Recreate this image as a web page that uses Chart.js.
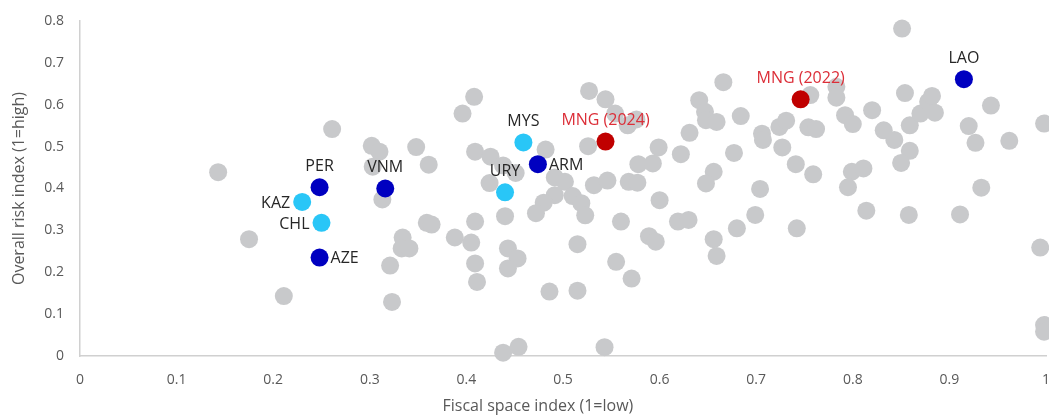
<!DOCTYPE html>
<html>
<head>
<meta charset="utf-8">
<script src="https://cdn.jsdelivr.net/npm/chart.js@4/dist/chart.umd.min.js"></script>
<style>
html,body{margin:0;padding:0;background:#fff;}
#wrap{width:1049px;height:417px;position:relative;}
</style>
</head>
<body>
<div id="wrap"><canvas id="c" width="1049" height="417"></canvas></div>
<script>
// ---- data ----
const otherX = [0.143,0.175,0.211,0.261,0.313,0.302,0.310,0.303,0.348,0.361,0.359,0.364,0.334,0.333,0.341,0.321,0.323,0.388,0.405,0.409,0.409,0.411,0.408,0.396,0.409,0.425,0.438,0.424,0.451,0.482,0.4915,0.502,0.4915,0.510,0.519,0.480,0.472,0.523,0.440,0.443,0.453,0.443,0.438,0.454,0.486,0.515,0.515,0.526,0.527,0.544,0.554,0.567,0.576,0.532,0.546,0.568,0.577,0.578,0.593,0.599,0.600,0.560,0.555,0.571,0.589,0.596,0.619,0.630,0.543,0.851,0.756,0.783,0.783,0.666,0.641,0.647,0.648,0.659,0.684,0.631,0.622,0.706,0.707,0.724,0.731,0.754,0.762,0.677,0.727,0.741,0.759,0.656,0.648,0.704,0.699,0.680,0.656,0.659,0.742,0.792,0.800,0.820,0.832,0.843,0.854,0.859,0.870,0.878,0.882,0.885,0.859,0.850,0.799,0.811,0.795,0.814,0.858,0.911,0.933,0.920,0.927,0.943,0.962,0.998,0.994,0.998,0.998];
const otherY = [0.439,0.279,0.143,0.542,0.374,0.502,0.488,0.452,0.499,0.457,0.318,0.314,0.283,0.257,0.257,0.216,0.129,0.283,0.271,0.321,0.221,0.177,0.619,0.579,0.488,0.476,0.455,0.413,0.437,0.493,0.4265,0.416,0.384,0.382,0.365,0.366,0.341,0.336,0.334,0.257,0.233,0.209,0.008,0.022,0.154,0.156,0.267,0.501,0.633,0.613,0.579,0.551,0.565,0.408,0.419,0.416,0.414,0.458,0.460,0.498,0.372,0.321,0.225,0.185,0.286,0.273,0.321,0.325,0.021,0.782,0.623,0.643,0.617,0.654,0.611,0.583,0.563,0.559,0.573,0.533,0.482,0.531,0.516,0.547,0.562,0.546,0.542,0.485,0.498,0.458,0.434,0.440,0.412,0.399,0.337,0.305,0.279,0.239,0.305,0.575,0.554,0.587,0.539,0.516,0.628,0.551,0.579,0.607,0.621,0.581,0.490,0.461,0.440,0.448,0.403,0.347,0.337,0.338,0.402,0.549,0.509,0.598,0.514,0.555,0.259,0.074,0.058];

const hlNames = ["PER","KAZ","CHL","AZE","VNM","URY","MYS","ARM","MNG (2024)","MNG (2022)","LAO"];
const hlX     = [0.248,0.230,0.250,0.248,0.316,0.440,0.459,0.474,0.544,0.746,0.915];
const hlY     = [0.403,0.368,0.318,0.235,0.400,0.391,0.510,0.458,0.512,0.613,0.661];
const hlGroup = ["peer","ref","ref","peer","peer","ref","ref","peer","mng","mng","peer"];

const xTicks = [0,0.1,0.2,0.3,0.4,0.5,0.6,0.7,0.8,0.9,1];
const yTicks = [0,0.1,0.2,0.3,0.4,0.5,0.6,0.7,0.8];
const xTitle = "Fiscal space index (1=low)";
const yTitle = "Overall risk index (1=high)";

// ---- styles ----
const groupColor = {peer:"#0000C0", ref:"#29C6F7", mng:"#C00000"};
const labelColor = {peer:"#262626", ref:"#262626", mng:"#DC2E38"};
const placement = {"PER":"above","KAZ":"left","CHL":"left","AZE":"right","VNM":"above","URY":"above","MYS":"above","ARM":"right","MNG (2024)":"above","MNG (2022)":"above","LAO":"above"};
const FONT = "'Open Sans', 'Noto Sans', sans-serif";

const labelPlugin = {
  id: 'pointLabels',
  afterDatasetsDraw(chart) {
    const ctx = chart.ctx;
    const meta = chart.getDatasetMeta(0);
    ctx.save();
    ctx.font = "16px " + FONT;
    ctx.textBaseline = "middle";
    meta.data.forEach((pt, i) => {
      const name = hlNames[i];
      const p = placement[name];
      ctx.fillStyle = labelColor[hlGroup[i]];
      if (p === "above") {
        ctx.textAlign = "center";
        ctx.fillText(name, pt.x, pt.y - 21);
      } else if (p === "left") {
        ctx.textAlign = "right";
        ctx.fillText(name, pt.x - 12, pt.y + 2);
      } else {
        ctx.textAlign = "left";
        ctx.fillText(name, pt.x + 11, pt.y + 1);
      }
    });
    ctx.restore();
  }
};

const titlePlugin = {
  id: 'axisTitles',
  afterDraw(chart) {
    const ctx = chart.ctx;
    const a = chart.chartArea;
    ctx.save();
    ctx.font = "16px " + FONT;
    ctx.fillStyle = "#595959";
    ctx.textAlign = "center";
    ctx.textBaseline = "middle";
    ctx.fillText(xTitle, a.left + (a.right - a.left) * 0.474, 406);
    ctx.translate(19, (a.top + a.bottom) / 2);
    ctx.rotate(-Math.PI / 2);
    ctx.fillText(yTitle, 0, 0);
    ctx.restore();
  }
};

new Chart(document.getElementById('c'), {
  type: 'scatter',
  data: {
    datasets: [
      {
        data: hlX.map((x, i) => ({x: x, y: hlY[i]})),
        backgroundColor: hlGroup.map(g => groupColor[g]),
        pointRadius: 9, pointHoverRadius: 9, borderWidth: 0,
        clip: false, order: 0
      },
      {
        data: otherX.map((x, i) => ({x: x, y: otherY[i]})),
        backgroundColor: "#C8C9CB",
        pointRadius: 9, pointHoverRadius: 9, borderWidth: 0,
        clip: false, order: 1
      }
    ]
  },
  options: {
    responsive: false,
    animation: false,
    devicePixelRatio: 1,
    layout: {autoPadding: false, padding: {left: 0, right: 3, top: 21, bottom: 0}},
    plugins: {legend: {display: false}, tooltip: {enabled: false}},
    scales: {
      x: {
        type: 'linear', min: 0, max: 1,
        afterBuildTicks: s => { s.ticks = xTicks.map(v => ({value: v})); },
        afterFit: s => { s.height = 61; s.paddingLeft = 0; s.paddingRight = 0; },
        grid: {display: false, drawTicks: false},
        border: {display: true, color: "#D0D0D0", width: 1.5},
        ticks: {
          padding: 16, color: "#595959", font: {family: FONT, size: 14},
          callback: v => String(v)
        }
      },
      y: {
        type: 'linear', min: 0, max: 0.8,
        afterBuildTicks: s => { s.ticks = yTicks.map(v => ({value: v})); },
        afterFit: s => { s.width = 80; s.paddingTop = 0; s.paddingBottom = 0; },
        grid: {display: false, drawTicks: false},
        border: {display: true, color: "#D0D0D0", width: 1.5},
        ticks: {
          padding: 16, color: "#595959", font: {family: FONT, size: 14},
          callback: v => String(v)
        }
      }
    }
  },
  plugins: [labelPlugin, titlePlugin]
});
</script>
</body>
</html>
